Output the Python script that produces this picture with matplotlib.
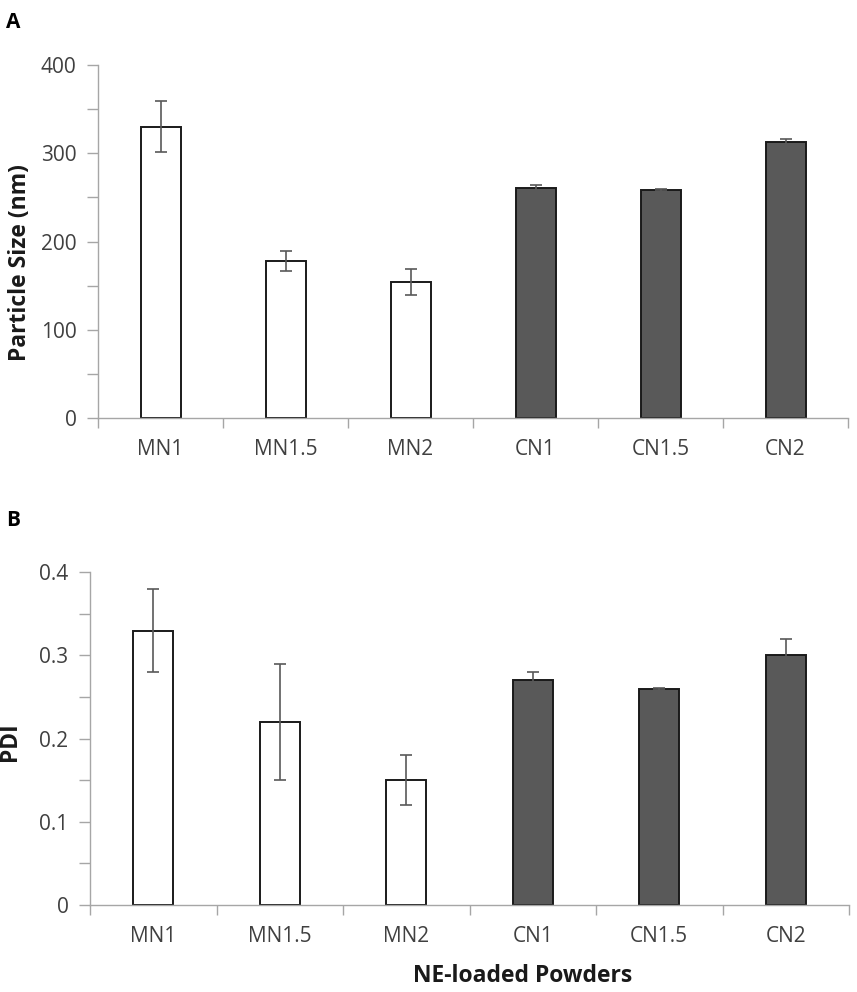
import matplotlib
matplotlib.use("Agg")
import matplotlib.pyplot as plt
import numpy as np
from matplotlib.ticker import MultipleLocator, FixedLocator

plt.rcParams['font.family'] = ['Open Sans', 'DejaVu Sans']

categories = ["MN1", "MN1.5", "MN2", "CN1", "CN1.5", "CN2"]
size_vals = [330, 178, 154, 261, 258, 313]
size_err = [29, 11, 15, 3, 1, 3]
pdi_vals = [0.33, 0.22, 0.15, 0.27, 0.26, 0.30]
pdi_err = [0.05, 0.07, 0.03, 0.01, 0.001, 0.02]
bar_colors = ["white", "white", "white", "#595959", "#595959", "#595959"]

AXIS_C = "#a6a6a6"
TXT_C = "#404040"

fig = plt.figure(figsize=(8.57, 9.92), dpi=100)
ax1 = fig.add_axes([98/857, 1-418/992, 750/857, 353/992])
ax2 = fig.add_axes([90/857, 1-905/992, 759/857, 332.7/992])

def style(ax, vals, errs, ymax, major, minor, fmt):
    x = np.arange(len(categories))
    ax.bar(x, vals, width=0.32, color=bar_colors, edgecolor="#1a1a1a", linewidth=1.4, zorder=2)
    ax.errorbar(x, vals, yerr=errs, fmt='none', ecolor="#595959", elinewidth=1.2,
                capsize=4, capthick=1.2, zorder=3)
    ax.set_xlim(-0.5, len(categories) - 0.5)
    ax.set_ylim(0, ymax)
    ax.set_xticks(x)
    ax.set_xticklabels(categories)
    ax.xaxis.set_minor_locator(FixedLocator(np.arange(-0.5, len(categories), 1.0)))
    ax.tick_params(axis='x', which='major', length=0, pad=15, labelsize=15, labelcolor=TXT_C)
    ax.tick_params(axis='x', which='minor', length=7, width=1, color=AXIS_C, direction='out')
    ax.yaxis.set_major_locator(MultipleLocator(major))
    ax.yaxis.set_minor_locator(MultipleLocator(minor))
    ax.yaxis.set_major_formatter(fmt)
    ax.tick_params(axis='y', which='both', length=8, width=1, color=AXIS_C, direction='out',
                   labelsize=15, labelcolor=TXT_C, pad=7.5)
    for s in ['top', 'right']:
        ax.spines[s].set_visible(False)
    for s in ['left', 'bottom']:
        ax.spines[s].set_color(AXIS_C)
        ax.spines[s].set_linewidth(1)

style(ax1, size_vals, size_err, 400, 100, 50, lambda v, p: f"{v:.0f}")
style(ax2, pdi_vals, pdi_err, 0.4, 0.1, 0.05, lambda v, p: "0" if abs(v) < 1e-9 else f"{v:.1f}")

ax1.set_ylabel("Particle Size (nm)", fontsize=16.5, fontweight='bold', color="#1a1a1a")
ax1.yaxis.set_label_coords(-0.088, 0.44)
ax2.set_ylabel("PDI", fontsize=16.5, fontweight='bold', color="#1a1a1a")
ax2.yaxis.set_label_coords(-0.089, 0.49)
ax2.set_xlabel("NE-loaded Powders", fontsize=16.5, fontweight='bold', color="#1a1a1a")
ax2.xaxis.set_label_coords(0.57, -0.178)

fig.text(13/857, 1-22/992, "A", fontsize=15, fontweight='bold', ha='center', va='center')
fig.text(13/857, 1-520/992, "B", fontsize=15, fontweight='bold', ha='center', va='center')

fig.savefig("out.png", dpi=100, facecolor="white")
